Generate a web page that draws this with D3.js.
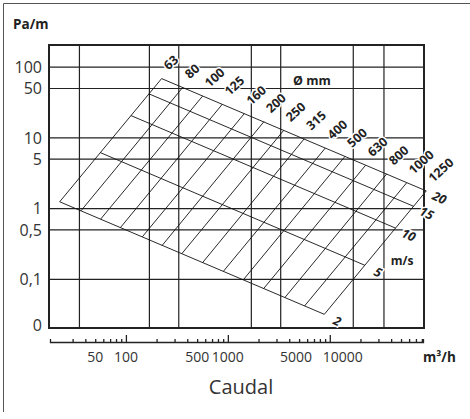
<!DOCTYPE html>
<html>
<head>
<meta charset="utf-8">
<script src="https://cdn.jsdelivr.net/npm/d3@7"></script>
<style>
  body { margin: 0; background: #fff; }
  svg { display: block; font-family: "Open Sans", sans-serif; }
</style>
</head>
<body>
<div id="chart"></div>
<script>
// duct diameters (mm) and air velocities (m/s) of the nomogram
var diameters = [63, 80, 100, 125, 160, 200, 250, 315, 400, 500, 630, 800, 1000, 1250];
var velocities = [2, 5, 10, 15, 20];

// diameter lines: flow (m3/h) and pressure drop (Pa/m) at 2 m/s and at 20 m/s
var diamFlowLow  = [22.4, 36.2, 56.5, 88.4, 145, 226, 353, 561, 905, 1414, 2244, 3619, 5655, 8836];
var diamFlowHigh = [224, 362, 565, 884, 1448, 2262, 3534, 5611, 9048, 14137, 22445, 36191, 56549, 88357];
var diamDropLow  = [1.25, 0.93, 0.71, 0.54, 0.40, 0.30, 0.23, 0.17, 0.13, 0.098, 0.074, 0.055, 0.042, 0.032];
var diamDropHigh = [69, 52, 39, 30, 22, 17, 12.8, 9.7, 7.2, 5.5, 4.1, 3.1, 2.3, 1.78];

// velocity lines: flow and pressure drop at 63 mm and at 1250 mm
var velFlowSmall = [22.4, 56, 112, 168, 224];
var velFlowLarge = [8836, 22090, 44180, 66270, 88357];
var velDropSmall = [1.25, 6.2, 20.7, 42, 69];
var velDropLarge = [0.032, 0.158, 0.53, 1.08, 1.78];

// axes and grid
var yTicks = [100, 50, 10, 5, 1, 0.5, 0.1];
var yTickLabels = ['100', '50', '10', '5', '1', '0,5', '0,1'];
var xGrid = [35, 170, 330, 1700, 3300, 17000, 34000];
var xMajor = [100, 1000, 10000];
var xMinor = [30, 40, 50, 60, 70, 80, 90,
              200, 300, 400, 500, 600, 700, 800, 900,
              2000, 3000, 4000, 5000, 6000, 7000, 8000, 9000,
              20000, 30000, 40000, 50000, 60000, 70000, 80000];
var xLabels = [50, 100, 500, 1000, 5000, 10000];

var width = 470, height = 419;
var plotLeft = 49, plotRight = 424, plotTop = 45, plotBottom = 328;

var svg = d3.select('#chart').append('svg')
    .attr('width', width)
    .attr('height', height);

var x = d3.scaleLog().domain([17.6, 84000]).range([plotLeft, plotRight]);
var y = d3.scaleLog().domain([0.0205, 206]).range([plotBottom, plotTop]);

// outer frame (only left and top edges are visible)
svg.append('path')
  .attr('d', 'M3.5,412V3.5H470')
  .attr('fill', 'none')
  .attr('stroke', '#555')
  .attr('stroke-width', 1);

// grid
svg.append('g').selectAll('line')
  .data(yTicks)
  .enter().append('line')
    .attr('x1', plotLeft).attr('x2', plotRight)
    .attr('y1', d => y(d)).attr('y2', d => y(d))
    .attr('stroke', '#222')
    .attr('stroke-width', 1.2);

svg.append('g').selectAll('line')
  .data(xGrid)
  .enter().append('line')
    .attr('x1', d => x(d)).attr('x2', d => x(d))
    .attr('y1', plotTop).attr('y2', plotBottom)
    .attr('stroke', '#222')
    .attr('stroke-width', 1.2);

// nomogram: constant diameter lines
svg.append('g').selectAll('line')
  .data(diameters)
  .enter().append('line')
    .attr('x1', (d, i) => x(diamFlowLow[i]))
    .attr('y1', (d, i) => y(diamDropLow[i]))
    .attr('x2', (d, i) => x(diamFlowHigh[i]))
    .attr('y2', (d, i) => y(diamDropHigh[i]))
    .attr('stroke', '#111')
    .attr('stroke-width', 0.9);

// nomogram: constant velocity lines
svg.append('g').selectAll('line')
  .data(velocities)
  .enter().append('line')
    .attr('x1', (d, i) => x(velFlowSmall[i]))
    .attr('y1', (d, i) => y(velDropSmall[i]))
    .attr('x2', (d, i) => x(velFlowLarge[i]))
    .attr('y2', (d, i) => y(velDropLarge[i]))
    .attr('stroke', '#111')
    .attr('stroke-width', 0.9);

// plot border
svg.append('rect')
  .attr('x', plotLeft).attr('y', plotTop)
  .attr('width', plotRight - plotLeft).attr('height', plotBottom - plotTop)
  .attr('fill', 'none')
  .attr('stroke', '#222')
  .attr('stroke-width', 2);

// diameter labels
svg.append('g').selectAll('text')
  .data(diameters)
  .enter().append('text')
    .attr('transform', (d, i) => 'translate(' + (x(diamFlowHigh[i]) + 7) + ',' + (y(diamDropHigh[i]) - 8) + ') rotate(-42)')
    .attr('font-size', 12.5)
    .attr('font-weight', 'bold')
    .attr('fill', '#222')
    .attr('stroke', '#fff').attr('stroke-width', 3).attr('paint-order', 'stroke')
    .text(d => d);

svg.append('text')
  .attr('x', 293).attr('y', 85)
  .attr('font-size', 12.5)
  .attr('font-weight', 'bold')
  .attr('fill', '#222')
  .text('Ø mm');

// velocity labels
svg.append('g').selectAll('text')
  .data(velocities)
  .enter().append('text')
    .attr('transform', (d, i) => 'translate(' + (x(velFlowLarge[i]) + 13) + ',' + (y(velDropLarge[i]) + 7) + ') rotate(25)')
    .attr('text-anchor', 'middle')
    .attr('dy', '0.35em')
    .attr('font-size', 12.5)
    .attr('font-weight', 'bold')
    .attr('font-style', 'italic')
    .attr('fill', '#222')
    .attr('stroke', '#fff').attr('stroke-width', 3).attr('paint-order', 'stroke')
    .text(d => d);

svg.append('text')
  .attr('x', 402).attr('y', 265)
  .attr('text-anchor', 'middle')
  .attr('font-size', 12)
  .attr('font-weight', 'bold')
  .attr('fill', '#222')
  .text('m/s');

// y axis labels
svg.append('g').selectAll('text')
  .data(yTicks)
  .enter().append('text')
    .attr('x', 42)
    .attr('y', d => y(d))
    .attr('dy', '0.36em')
    .attr('text-anchor', 'end')
    .attr('font-size', 16)
    .attr('fill', '#333')
    .text((d, i) => yTickLabels[i]);

svg.append('text')
  .attr('x', 42).attr('y', plotBottom - 3)
  .attr('dy', '0.36em')
  .attr('text-anchor', 'end')
  .attr('font-size', 16)
  .attr('fill', '#333')
  .text('0');

svg.append('text')
  .attr('x', 13).attr('y', 29)
  .attr('font-size', 13.5)
  .attr('font-weight', 'bold')
  .attr('fill', '#222')
  .text('Pa/m');

// bottom flow axis, ticks pointing up
var xAxis = x.copy().domain([x.invert(50), x.invert(423)]).range([50, 423]);
var axisY = 342;

svg.append('g')
  .attr('transform', 'translate(0,' + axisY + ')')
  .call(d3.axisTop(xAxis).tickValues(xMinor).tickSize(3).tickSizeOuter(3).tickFormat(''))
  .call(g => g.selectAll('path, line').attr('stroke', '#222').attr('stroke-width', 1.3));

svg.append('g')
  .attr('transform', 'translate(0,' + axisY + ')')
  .call(d3.axisTop(xAxis).tickValues(xMajor).tickSize(7).tickSizeOuter(0).tickFormat(''))
  .call(g => g.select('.domain').remove())
  .call(g => g.selectAll('line').attr('stroke', '#222').attr('stroke-width', 1.3));

// labels of 5000 and 10000 are pushed apart so they do not collide
svg.append('g').selectAll('text')
  .data(xLabels)
  .enter().append('text')
    .attr('x', d => xAxis(d))
    .attr('dx', d => d === 10000 ? 13 : (d === 5000 ? -3 : 0))
    .attr('y', 362)
    .attr('text-anchor', 'middle')
    .attr('font-size', 14)
    .attr('fill', '#333')
    .text(d => d);

svg.append('text')
  .attr('x', 423).attr('y', 362)
  .attr('font-size', 13.5)
  .attr('font-weight', 'bold')
  .attr('fill', '#222')
  .text('m³/h');

svg.append('text')
  .attr('x', 241).attr('y', 394)
  .attr('text-anchor', 'middle')
  .attr('font-size', 20)
  .attr('fill', '#333')
  .text('Caudal');
</script>
</body>
</html>
